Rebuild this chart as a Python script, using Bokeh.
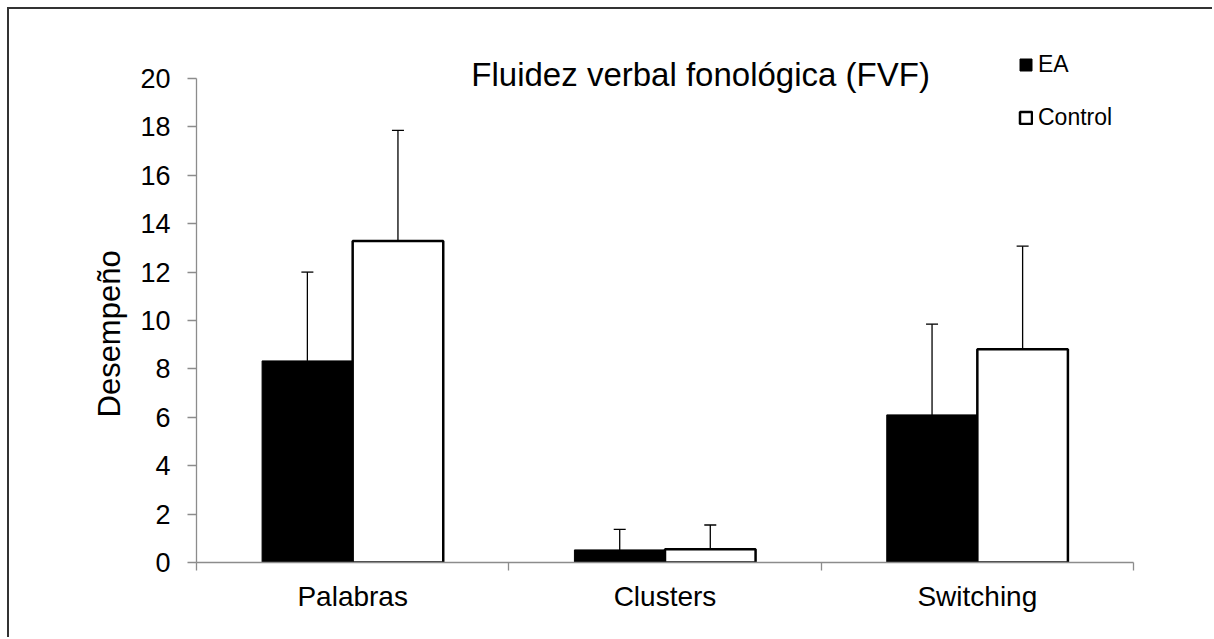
from bokeh.plotting import figure
from bokeh.models import (ColumnDataSource, Whisker, TeeHead, FixedTicker, Label,
                          Legend, LegendItem, Title)
from bokeh.embed import file_html
from bokeh.resources import INLINE

# ---- data ----
categories = ["Palabras", "Clusters", "Switching"]
ea_mean = [8.33, 0.52, 6.10]
ea_sd = [3.67, 0.85, 3.75]
control_mean = [13.28, 0.55, 8.81]
control_sd = [4.58, 1.00, 4.26]
y_ticks = [0, 2, 4, 6, 8, 10, 12, 14, 16, 18, 20]
title_text = "Fluidez verbal fonológica (FVF)"
y_label = "Desempeño"
series_names = ["EA", "Control"]

FONT = "Liberation Sans"
offset = 0.145
bar_w = 0.29

centers = [i + 0.5 for i in range(len(categories))]
ea_src = ColumnDataSource(dict(
    x=[c - offset for c in centers], top=ea_mean,
    hi=[m + s for m, s in zip(ea_mean, ea_sd)]))
ct_src = ColumnDataSource(dict(
    x=[c + offset for c in centers], top=control_mean,
    hi=[m + s for m, s in zip(control_mean, control_sd)]))

p = figure(width=1205, height=630, output_backend="svg", toolbar_location=None,
           x_range=(0, len(categories)), y_range=(0, 21.57),
           min_border_left=187, min_border_right=81, min_border_top=31,
           min_border_bottom=77)
p.styles = {"margin-left": "9px", "margin-top": "9px",
            "box-shadow": "-2px -2px 0px 0px #333333"}
p.outline_line_color = None
p.xgrid.visible = False
p.ygrid.visible = False
p.background_fill_color = "white"
p.border_fill_color = "white"

r_ea = p.vbar(x="x", top="top", bottom=0, width=bar_w, source=ea_src,
              fill_color="black", line_color="black", line_width=1)
r_ct = p.vbar(x="x", top="top", bottom=0, width=bar_w, source=ct_src,
              fill_color="white", line_color="black", line_width=2.5)

for src in (ea_src, ct_src):
    w = Whisker(source=src, base="x", lower="top", upper="hi", dimension="height",
                line_color="black", line_width=1.3,
                upper_head=TeeHead(size=12, line_color="black", line_width=1.3),
                lower_head=None)
    p.add_layout(w)

# y axis
yax = p.yaxis[0]
yax.ticker = FixedTicker(ticks=y_ticks)
yax.bounds = (y_ticks[0], y_ticks[-1])
yax.axis_line_color = "#8c8c8c"
yax.axis_line_width = 1.3
yax.major_tick_line_color = "#8c8c8c"
yax.major_tick_line_width = 1.3
yax.major_tick_in = 0
yax.major_tick_out = 9
yax.minor_tick_line_color = None
yax.major_label_text_font = FONT
yax.major_label_text_font_size = "27px"
yax.major_label_text_color = "black"
yax.major_label_standoff = 17

# y axis title as a side title (so it can sit lower, as in the reference)
p.add_layout(Title(text=y_label, align="left", offset=145, standoff=22,
                   text_font=FONT, text_font_size="31px", text_font_style="normal",
                   text_color="black"), "left")

# x axis
xax = p.xaxis[0]
xax.ticker = FixedTicker(ticks=centers, minor_ticks=list(range(len(categories) + 1)))
xax.major_label_overrides = {c: n for c, n in zip(centers, categories)}
xax.axis_line_color = "#8c8c8c"
xax.axis_line_width = 1.3
xax.major_tick_line_color = None
xax.major_tick_in = 0
xax.major_tick_out = 0
xax.minor_tick_line_color = "#8c8c8c"
xax.minor_tick_line_width = 1.3
xax.minor_tick_in = 0
xax.minor_tick_out = 8
xax.major_label_text_font = FONT
xax.major_label_text_font_size = "28px"
xax.major_label_text_color = "black"
xax.major_label_standoff = 10

# title
p.add_layout(Label(x=1.614, y=20.18, text=title_text, text_font=FONT,
                   text_font_size="33px", text_color="black",
                   text_align="center", text_baseline="middle"))

# legend
leg = Legend(items=[LegendItem(label=series_names[0], renderers=[r_ea]),
                    LegendItem(label=series_names[1], renderers=[r_ct])],
             location=(822, 431), padding=0, margin=0, spacing=26,
             glyph_width=15, glyph_height=15, label_height=26,
             label_standoff=5, label_text_font=FONT, label_text_font_size="23px",
             label_text_color="black", border_line_color=None,
             background_fill_alpha=0)
p.add_layout(leg, "center")

open("out.html", "w").write(file_html(p, INLINE))
